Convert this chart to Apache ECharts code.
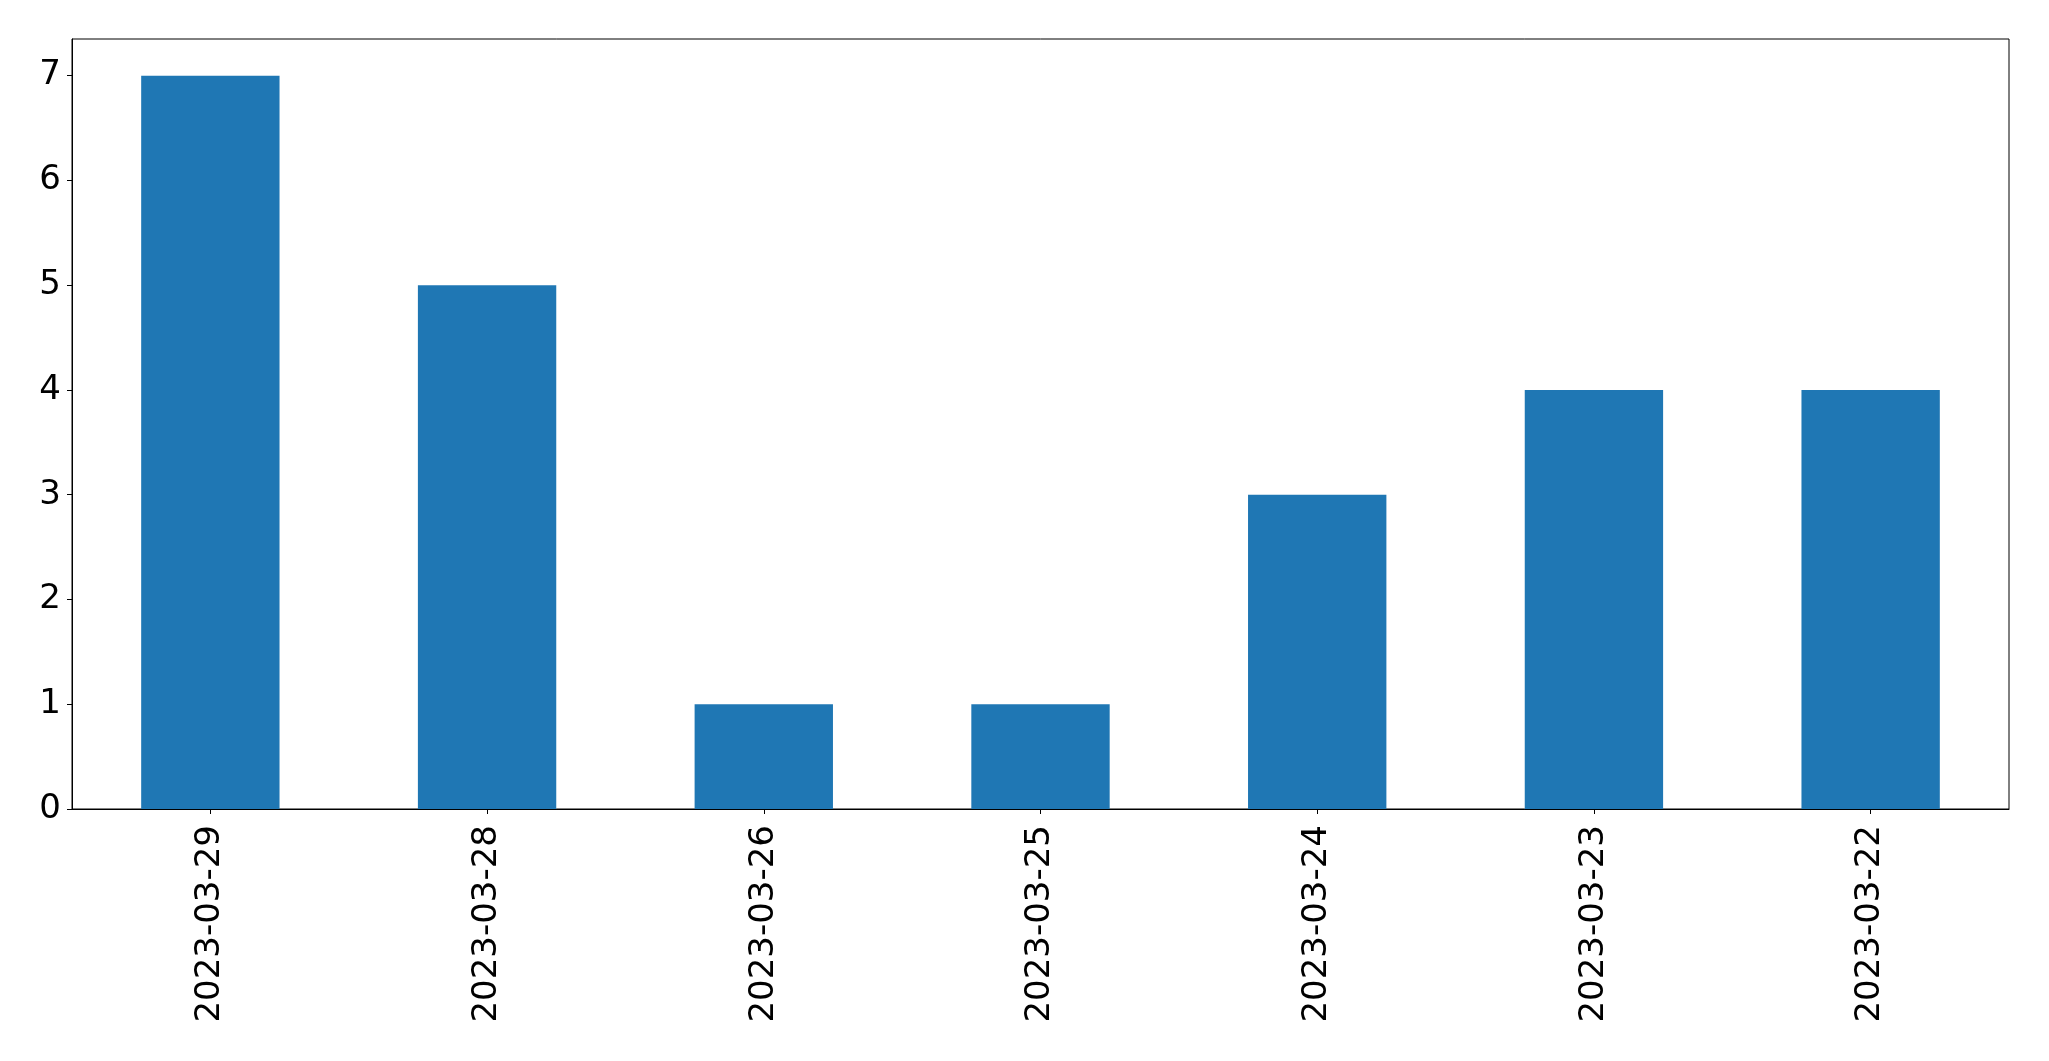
<!DOCTYPE html>
<html>
<head>
<meta charset="utf-8">
<script src="https://cdn.jsdelivr.net/npm/echarts@6/dist/echarts.min.js"></script>
<style>
html,body{margin:0;padding:0;background:#fff;}
#chart{width:2049px;height:1061px;}
</style>
</head>
<body>
<div id="chart"></div>
<script>
const categories = ['2023-03-29','2023-03-28','2023-03-26','2023-03-25','2023-03-24','2023-03-23','2023-03-22'];
const counts = [7, 5, 1, 1, 3, 4, 4];
const yTicks = [0, 1, 2, 3, 4, 5, 6, 7];

const chart = echarts.init(document.getElementById('chart'), null, {renderer: 'canvas'});
chart.setOption({
  animation: false,
  backgroundColor: '#ffffff',
  grid: {
    left: 72, top: 39, right: 40, bottom: 252,
    show: true, borderColor: '#000', borderWidth: 1, backgroundColor: 'transparent'
  },
  xAxis: {
    type: 'category',
    data: categories,
    boundaryGap: true,
    axisLine: {show: true, lineStyle: {color: '#000', width: 1}},
    axisTick: {show: true, alignWithLabel: true, length: 5, lineStyle: {color: '#000', width: 1}},
    axisLabel: {
      rotate: 90, margin: 16, interval: 0,
      fontFamily: 'DejaVu Sans', fontSize: 34, color: '#000'
    },
    splitLine: {show: false}
  },
  yAxis: {
    type: 'value',
    min: 0, max: 7.35, interval: 1,
    axisLine: {show: true, lineStyle: {color: '#000', width: 1}},
    axisTick: {show: true, length: 5, lineStyle: {color: '#000', width: 1}, customValues: yTicks},
    axisLabel: {
      margin: 11, fontFamily: 'DejaVu Sans', fontSize: 34, color: '#000',
      customValues: yTicks
    },
    splitLine: {show: false}
  },
  series: [{
    type: 'bar',
    data: counts,
    barWidth: '50%',
    itemStyle: {color: '#1f77b4'}
  }]
});
</script>
</body>
</html>
